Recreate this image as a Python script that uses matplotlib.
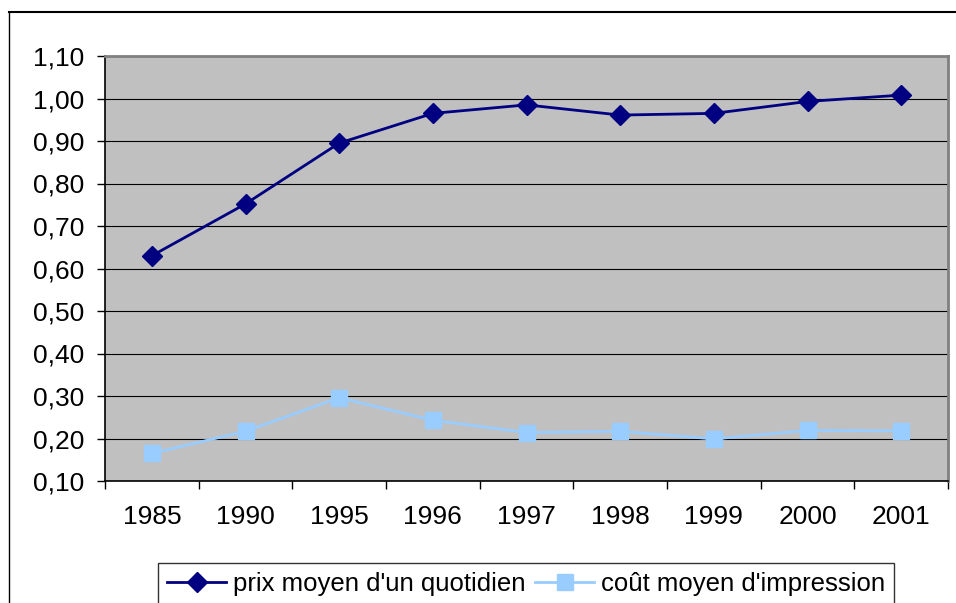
import numpy as np
import matplotlib
matplotlib.use("Agg")
import matplotlib.pyplot as plt
from matplotlib.lines import Line2D

plt.rcParams['font.family'] = ['Liberation Sans', 'DejaVu Sans']

# Data
years = ["1985", "1990", "1995", "1996", "1997", "1998", "1999", "2000", "2001"]
prix_quotidien = [0.63, 0.752, 0.895, 0.965, 0.985, 0.961, 0.965, 0.993, 1.008]
cout_impression = [0.165, 0.217, 0.296, 0.243, 0.214, 0.217, 0.199, 0.219, 0.218]
y_ticks = [0.10, 0.20, 0.30, 0.40, 0.50, 0.60, 0.70, 0.80, 0.90, 1.00, 1.10]
y_labels = ["0,10", "0,20", "0,30", "0,40", "0,50", "0,60", "0,70", "0,80", "0,90", "1,00", "1,10"]

fig = plt.figure(figsize=(9.56, 6.03), dpi=100)
ax = fig.add_axes([105 / 956, 1 - 481 / 603, 843 / 956, 425 / 603])
ax.set_facecolor("#C0C0C0")

x = np.arange(len(years))
ax.plot(x, prix_quotidien, color="#000080", lw=2.0, marker="D", ms=10,
        label="prix moyen d'un quotidien", zorder=4)
ax.plot(x, cout_impression, color="#99CCFF", lw=2.0, marker="s", ms=11,
        label="coût moyen d'impression", zorder=3)

ax.set_xlim(-0.5, len(years) - 0.5)
ax.set_ylim(0.10, 1.10)

# y axis
ax.set_yticks(y_ticks)
ax.set_yticklabels(y_labels)
ax.tick_params(axis="y", direction="out", length=6, width=1, pad=9, labelsize=19)
ax.yaxis.grid(True, color="black", lw=0.8)
ax.set_axisbelow(True)

# x axis: ticks on category boundaries, labels centred
ax.set_xticks(np.arange(-0.5, len(years), 1.0))
ax.set_xticklabels([])
ax.set_xticks(x, minor=True)
ax.set_xticklabels(years, minor=True)
ax.tick_params(axis="x", which="major", direction="out", length=6, width=1)
ax.tick_params(axis="x", which="minor", length=0, pad=17, labelsize=19)

for side in ["left", "bottom"]:
    ax.spines[side].set_color("black")
    ax.spines[side].set_linewidth(1.2)
for side in ["top", "right"]:
    ax.spines[side].set_color("#808080")
    ax.spines[side].set_linewidth(2)

leg = fig.legend(loc="upper center", bbox_to_anchor=(526 / 956, 1 - 563 / 603),
                 ncol=2, fontsize=18.5, frameon=True, fancybox=False,
                 edgecolor="black", handlelength=2.3, handletextpad=0.25,
                 columnspacing=0.4, borderpad=0.35, borderaxespad=0)
leg.get_frame().set_linewidth(1)

# outer chart frame
fig.add_artist(Line2D([9 / 956, 9 / 956], [0, 1 - 12 / 603], color="black", lw=1,
                      transform=fig.transFigure))
fig.add_artist(Line2D([9 / 956, 1], [1 - 12 / 603, 1 - 12 / 603], color="black", lw=1.5,
                      transform=fig.transFigure))

fig.savefig("out.png", dpi=100)
